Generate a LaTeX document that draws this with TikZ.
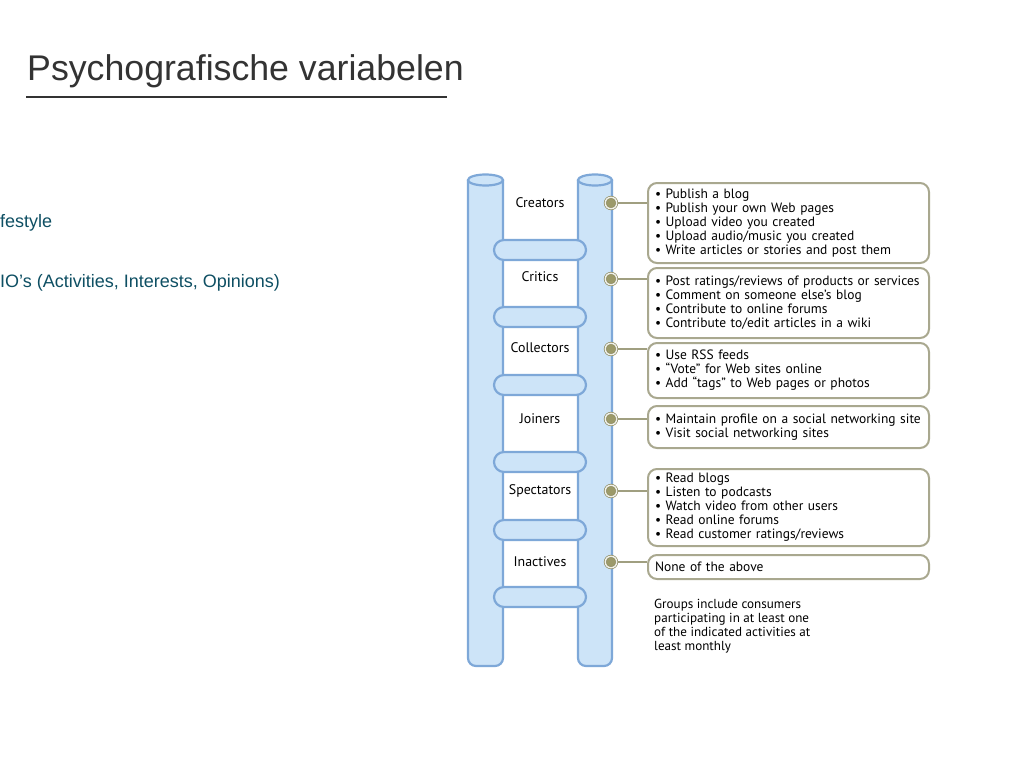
\documentclass[tikz,border=0pt]{standalone}
\usepackage{fontspec}
\setmainfont{Liberation Sans}
\newfontfamily\ladderfont{PT Sans}
\definecolor{titlegray}{HTML}{333333}
\definecolor{tealtext}{HTML}{0E4F63}
\definecolor{polefill}{HTML}{CDE4F8}
\definecolor{polecap}{HTML}{E2EFFB}
\definecolor{poleline}{HTML}{7EA8D8}
\definecolor{dotfill}{HTML}{9C9A6A}
\definecolor{dotline}{HTML}{8E8C62}
\definecolor{linkcol}{HTML}{A09F80}
\definecolor{boxline}{HTML}{A9A88F}
\tikzset{
  pole/.style={fill=polefill, draw=poleline, line width=2.2pt},
  rung/.style={fill=polefill, draw=poleline, line width=2.2pt, rounded corners=10pt},
  lab/.style={font={\ladderfont\fontsize{13.9}{14}\selectfont}, inner sep=0pt},
  dot/.style={circle, inner sep=0pt, minimum size=11.5pt, fill=dotfill, draw=dotline, double=white!85!dotfill, double distance=1.4pt, line width=0.7pt},
  link/.style={draw=linkcol, line width=1.5pt},
  infobox/.style={draw=boxline, line width=2pt, rounded corners=9pt, anchor=north west,
    text width=267pt, inner xsep=7pt, inner ysep=0pt, align=left,
    font={\ladderfont\fontsize{13.5}{14}\selectfont}},
  note/.style={anchor=north west, inner sep=0pt, align=left, font={\ladderfont\fontsize{13.1}{14}\selectfont}},
  side/.style={anchor=base west, inner sep=0pt, text=tealtext, font={\fontsize{18}{21}\selectfont}}
}
\begin{document}
\begin{tikzpicture}[x=1pt,y=-1pt]
\useasboundingbox[fill=white] (0,0) rectangle (1024,768);
% title
\node[anchor=base west, inner sep=0pt, text=titlegray, font={\fontsize{35.7}{40}\selectfont}] (title) at (27,81) {Psychografische variabelen};
\draw[titlegray, line width=2pt] (26,97) -- (447,97);
% side texts
\node[side] (lifestyle) at (0,227) {festyle};
\node[side] (aio) at (0,287) {IO’s (Activities, Interests, Opinions)};
% poles
\draw[pole, rounded corners=8pt] (468,180) -- (468,666) -- (503,666) -- (503,180);
\draw[pole] (485.5,180) ellipse (17.5pt and 5.5pt);
\draw[pole, rounded corners=8pt] (578,180) -- (578,666) -- (612,666) -- (612,180);
\draw[pole] (595,180) ellipse (17pt and 5.5pt);
% rungs
\foreach \y in {250,317,385,462,530,597}{
  \draw[rung] (494,\y-10) rectangle (586,\y+10);
}
% labels
\node[lab] (l1) at (540,203) {Creators};
\node[lab] (l2) at (540,277) {Critics};
\node[lab] (l3) at (540,348) {Collectors};
\node[lab] (l4) at (540,419) {Joiners};
\node[lab] (l5) at (540,491) {Spectators};
\node[lab] (l6) at (540,562) {Inactives};
% boxes
\node[infobox, minimum height=80pt] (b1) at (647,182) {• Publish a blog\\• Publish your own Web pages\\• Upload video you created\\• Upload audio/music you created\\• Write articles or stories and post them};
\node[infobox, minimum height=70pt] (b2) at (647,267) {• Post ratings/reviews of products or services\\• Comment on someone else’s blog\\• Contribute to online forums\\• Contribute to/edit articles in a wiki};
\node[infobox, minimum height=55pt] (b3) at (647,342) {• Use RSS feeds\\• “Vote” for Web sites online\\• Add “tags” to Web pages or photos};
\node[infobox, minimum height=42pt] (b4) at (647,405) {• Maintain profile on a social networking site\\• Visit social networking sites};
\node[infobox, minimum height=77pt] (b5) at (647,468) {• Read blogs\\• Listen to podcasts\\• Watch video from other users\\• Read online forums\\• Read customer ratings/reviews};
\node[infobox, minimum height=24pt] (b6) at (647,554) {None of the above};
\node[note] (n) at (654,599) {Groups include consumers\\participating in at least one\\of the indicated activities at\\least monthly};
% dots and links
\foreach \i/\y in {1/203,2/279,3/349,4/419,5/491,6/562}{
  \coordinate (e\i) at (647,\y);
  \draw[link] (611,\y) -- (e\i);
  \node[dot] (d\i) at (611,\y) {};
}
\end{tikzpicture}
\end{document}
